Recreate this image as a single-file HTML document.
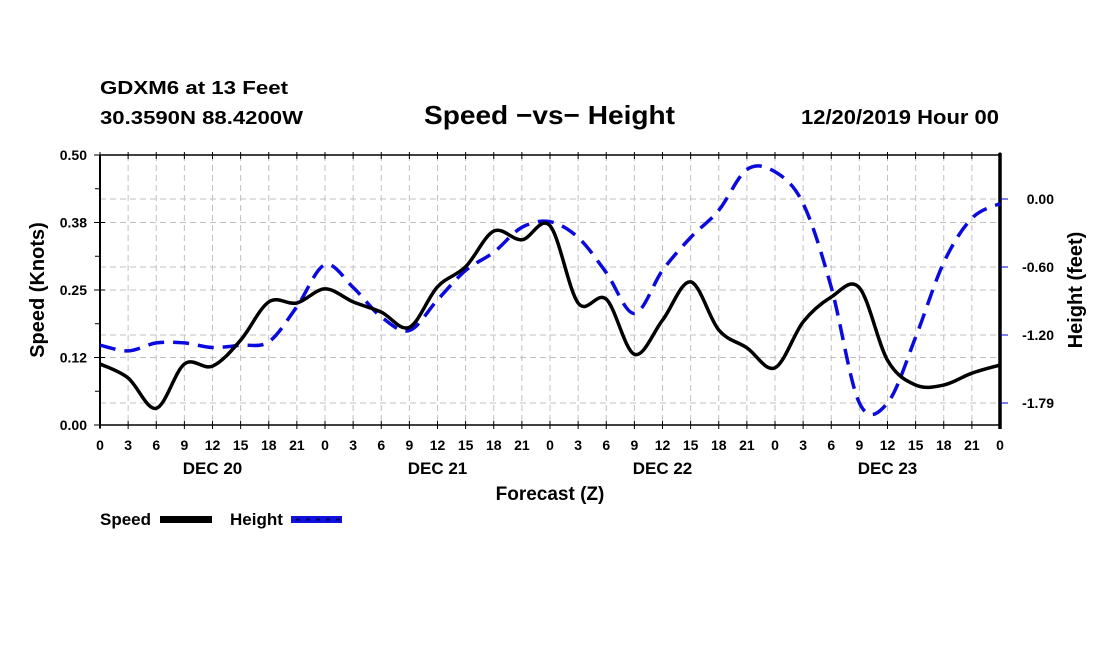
<!DOCTYPE html>
<html><head><meta charset="utf-8"><style>
html,body{margin:0;padding:0;background:#fff;}
svg{display:block;font-family:"Liberation Sans",sans-serif;font-weight:bold;}
</style></head><body>
<svg id="chart" width="1100" height="650" viewBox="0 0 1100 650">
<text x="100" y="94" font-size="18" textLength="188" lengthAdjust="spacingAndGlyphs">GDXM6 at 13 Feet</text>
<text x="100" y="124" font-size="18" textLength="203" lengthAdjust="spacingAndGlyphs">30.3590N 88.4200W</text>
<text x="424" y="124" font-size="26" textLength="251" lengthAdjust="spacingAndGlyphs">Speed −vs− Height</text>
<text x="801" y="124" font-size="20" textLength="198" lengthAdjust="spacingAndGlyphs">12/20/2019 Hour 00</text>
<g id="grid"></g>
<g id="axes"></g>
<g id="series"></g>
<text x="0" y="0" font-size="20" text-anchor="middle" transform="translate(44,290) rotate(-90)">Speed (Knots)</text>
<text x="0" y="0" font-size="20" text-anchor="middle" transform="translate(1082,290) rotate(-90)">Height (feet)</text>
<text x="550" y="500" font-size="19" text-anchor="middle">Forecast (Z)</text>
<g>
<text x="100" y="525" font-size="17">Speed</text>
<rect x="160" y="516" width="52" height="7" fill="#000"/>
<text x="230" y="525" font-size="17">Height</text>
<rect x="291" y="516" width="51" height="7" fill="#1010e0"/>
<line x1="291" y1="519.5" x2="342" y2="519.5" stroke="#000060" stroke-width="2" stroke-dasharray="4,6" stroke-dashoffset="-5"/>
</g>
</svg>
<script>
const hours = [0,3,6,9,12,15,18,21,24,27,30,33,36,39,42,45,48,51,54,57,60,63,66,69,72,75,78,81,84,87,90,93,96];
const speed = [0.113,0.087,0.031,0.113,0.109,0.157,0.228,0.226,0.252,0.228,0.209,0.181,0.256,0.293,0.359,0.343,0.369,0.226,0.233,0.131,0.194,0.265,0.176,0.143,0.106,0.191,0.237,0.254,0.120,0.074,0.074,0.096,0.111];
const height = [-1.29,-1.34,-1.27,-1.27,-1.31,-1.29,-1.26,-0.95,-0.58,-0.78,-1.04,-1.16,-0.89,-0.63,-0.47,-0.25,-0.20,-0.34,-0.65,-1.01,-0.63,-0.34,-0.10,0.26,0.24,-0.04,-0.78,-1.80,-1.80,-1.22,-0.56,-0.17,-0.04];
const leftTicks = [0,0.125,0.25,0.375,0.5];
const leftTickLabels = ["0.00","0.12","0.25","0.38","0.50"];
const rightTicks = [0,-0.6,-1.2,-1.8];
const rightTickLabels = ["0.00","-0.60","-1.20","-1.79"];
const dayLabels = ["DEC 20","DEC 21","DEC 22","DEC 23"];
const dayCenters = [12,36,60,84];

const X0=100,X1=1000,Y0=425,Y1=155;
const xs = h => X0 + (h/96)*(X1-X0);
const ys = v => Y0 - (v/0.5)*(Y0-Y1);
const yh = v => 199 - v*(68/0.6);
const NS='http://www.w3.org/2000/svg';
function mk(tag, attrs, parent){const e=document.createElementNS(NS,tag);for(const k in attrs)e.setAttribute(k,attrs[k]);parent.appendChild(e);return e;}
const grid=document.getElementById('grid'), axes=document.getElementById('axes'), series=document.getElementById('series');

for(let h=3;h<96;h+=3){
  const g=mk('line',{x1:xs(h),x2:xs(h),y1:Y1,y2:Y0,stroke:'#c0c0c0','stroke-width':1,'stroke-dasharray':'6,4'},grid);
  
  
}
leftTicks.forEach(v=>{ if(v>0&&v<0.5){
  const g=mk('line',{x1:X0,x2:X1,y1:ys(v),y2:ys(v),stroke:'#c0c0c0','stroke-width':1,'stroke-dasharray':'6,4'},grid);
  
  
}});
rightTicks.forEach(v=>{
  const g=mk('line',{x1:X0,x2:X1,y1:yh(v),y2:yh(v),stroke:'#c0c0c0','stroke-width':1,'stroke-dasharray':'6,4'},grid);
  
  
});

// frame
mk('line',{x1:X0,x2:X1,y1:Y1,y2:Y1,stroke:'#000','stroke-width':1.5},axes);
mk('line',{x1:X0,x2:X1,y1:Y0,y2:Y0,stroke:'#000','stroke-width':1.5},axes);
mk('line',{x1:X0,x2:X0,y1:Y1,y2:Y0+3,stroke:'#000','stroke-width':2},axes);
mk('line',{x1:X1,x2:X1,y1:Y1-2,y2:Y0+4,stroke:'#000','stroke-width':3.5},axes);

hours.forEach(h=>{
  const x=xs(h);
  mk('line',{x1:x,x2:x,y1:Y1-3,y2:Y1+4,stroke:'#000','stroke-width':1},axes);
  mk('line',{x1:x,x2:x,y1:Y0-4,y2:Y0+4,stroke:'#000','stroke-width':1},axes);
  const t=mk('text',{x:x,y:450,'font-size':14,'text-anchor':'middle'},axes);
  t.textContent=String(h%24);
  
  
});
dayLabels.forEach((d,i)=>{
  const t=mk('text',{x:xs(dayCenters[i]),y:474,'font-size':17,'text-anchor':'middle'},axes);
  t.textContent=d;
  
  
});
leftTicks.forEach((v,i)=>{
  mk('line',{x1:X0-6,x2:X0+5,y1:ys(v),y2:ys(v),stroke:'#000','stroke-width':1},axes);
  if(i<leftTicks.length-1) mk('line',{x1:X0-5,x2:X0,y1:ys(v+0.0625),y2:ys(v+0.0625),stroke:'#000','stroke-width':1},axes);
  const t=mk('text',{x:X0-13,y:ys(v)+5,'font-size':14,'text-anchor':'end'},axes);
  t.textContent=leftTickLabels[i];
  
  
});
rightTicks.forEach((v,i)=>{
  mk('line',{x1:X1,x2:X1+8,y1:yh(v),y2:yh(v),stroke:'#0000cc','stroke-width':1},axes);
  const t=mk('text',{x:X1+54,y:yh(v)+5,'font-size':14,'text-anchor':'end'},axes);
  t.textContent=rightTickLabels[i];
  
  
});

function spline(pts){
  let d='M'+pts[0][0].toFixed(1)+','+pts[0][1].toFixed(1);
  for(let i=0;i<pts.length-1;i++){
    const p0=pts[Math.max(0,i-1)],p1=pts[i],p2=pts[i+1],p3=pts[Math.min(pts.length-1,i+2)];
    const c1x=p1[0]+(p2[0]-p0[0])/6,c1y=p1[1]+(p2[1]-p0[1])/6;
    const c2x=p2[0]-(p3[0]-p1[0])/6,c2y=p2[1]-(p3[1]-p1[1])/6;
    d+=' C'+c1x.toFixed(1)+','+c1y.toFixed(1)+' '+c2x.toFixed(1)+','+c2y.toFixed(1)+' '+p2[0].toFixed(1)+','+p2[1].toFixed(1);
  }
  return d;
}
const hp=mk('path',{d:spline(hours.map((h,i)=>[xs(h),yh(height[i])])),fill:'none',stroke:'#0a0ae0','stroke-width':3.5,'stroke-dasharray':'16,9'},series);


const sp=mk('path',{d:spline(hours.map((h,i)=>[xs(h),ys(speed[i])])),fill:'none',stroke:'#000','stroke-width':3.5},series);


</script>
</body></html>
